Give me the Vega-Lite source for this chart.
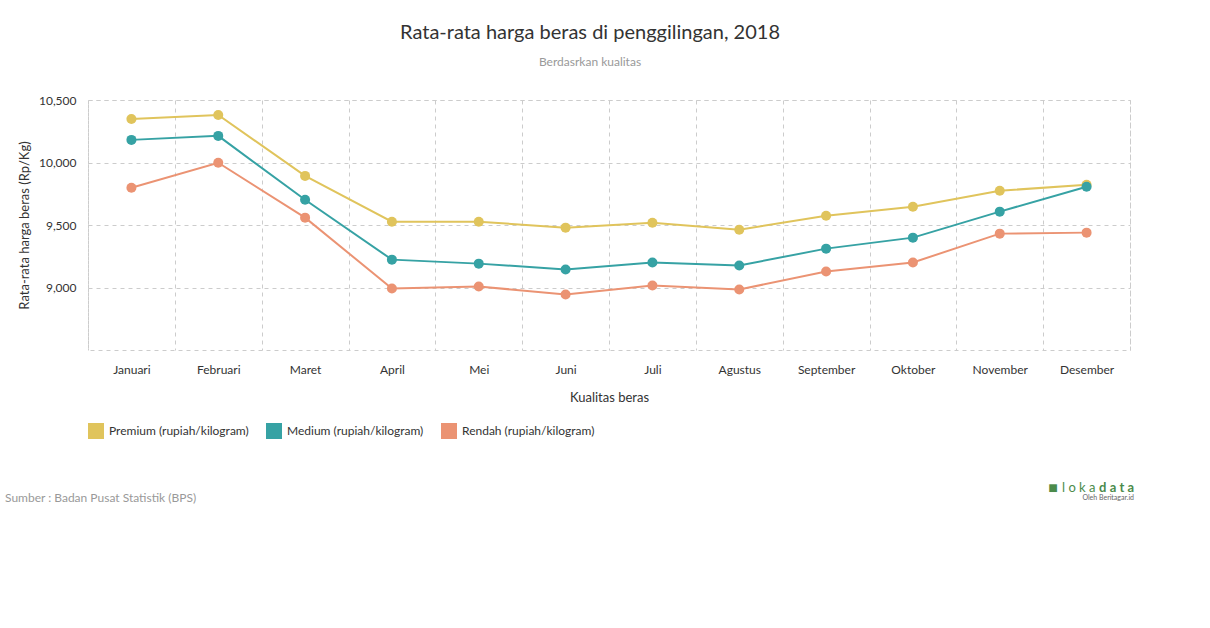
{
  "$schema": "https://vega.github.io/schema/vega-lite/v6.json",
  "width": 1042,
  "height": 250,
  "autosize": "none",
  "padding": {"left": 88, "top": 100, "right": 80, "bottom": 278},
  "background": "white",
  "config": {
    "font": "Lato",
    "view": {"stroke": "#cccccc", "strokeDash": [4, 4], "strokeWidth": 1}
  },
  "title": {
    "text": "Rata-rata harga beras di penggilingan, 2018",
    "subtitle": "Berdasrkan kualitas",
    "anchor": "middle",
    "frame": "group",
    "dx": -19,
    "offset": 26,
    "fontSize": 20,
    "fontWeight": "normal",
    "color": "#333333",
    "subtitleFontSize": 12,
    "subtitleColor": "#999999",
    "subtitlePadding": 14
  },
  "datasets": {
    "prices": [
      {"bulan": "Januari", "kualitas": "Premium (rupiah/kilogram)", "harga": 10348},
      {"bulan": "Februari", "kualitas": "Premium (rupiah/kilogram)", "harga": 10380},
      {"bulan": "Maret", "kualitas": "Premium (rupiah/kilogram)", "harga": 9893},
      {"bulan": "April", "kualitas": "Premium (rupiah/kilogram)", "harga": 9526},
      {"bulan": "Mei", "kualitas": "Premium (rupiah/kilogram)", "harga": 9526},
      {"bulan": "Juni", "kualitas": "Premium (rupiah/kilogram)", "harga": 9479},
      {"bulan": "Juli", "kualitas": "Premium (rupiah/kilogram)", "harga": 9518},
      {"bulan": "Agustus", "kualitas": "Premium (rupiah/kilogram)", "harga": 9462},
      {"bulan": "September", "kualitas": "Premium (rupiah/kilogram)", "harga": 9574},
      {"bulan": "Oktober", "kualitas": "Premium (rupiah/kilogram)", "harga": 9646},
      {"bulan": "November", "kualitas": "Premium (rupiah/kilogram)", "harga": 9774},
      {"bulan": "Desember", "kualitas": "Premium (rupiah/kilogram)", "harga": 9822},
      {"bulan": "Januari", "kualitas": "Medium (rupiah/kilogram)", "harga": 10181},
      {"bulan": "Februari", "kualitas": "Medium (rupiah/kilogram)", "harga": 10213},
      {"bulan": "Maret", "kualitas": "Medium (rupiah/kilogram)", "harga": 9702},
      {"bulan": "April", "kualitas": "Medium (rupiah/kilogram)", "harga": 9223},
      {"bulan": "Mei", "kualitas": "Medium (rupiah/kilogram)", "harga": 9191},
      {"bulan": "Juni", "kualitas": "Medium (rupiah/kilogram)", "harga": 9144},
      {"bulan": "Juli", "kualitas": "Medium (rupiah/kilogram)", "harga": 9200},
      {"bulan": "Agustus", "kualitas": "Medium (rupiah/kilogram)", "harga": 9176},
      {"bulan": "September", "kualitas": "Medium (rupiah/kilogram)", "harga": 9311},
      {"bulan": "Oktober", "kualitas": "Medium (rupiah/kilogram)", "harga": 9399},
      {"bulan": "November", "kualitas": "Medium (rupiah/kilogram)", "harga": 9607},
      {"bulan": "Desember", "kualitas": "Medium (rupiah/kilogram)", "harga": 9806},
      {"bulan": "Januari", "kualitas": "Rendah (rupiah/kilogram)", "harga": 9798},
      {"bulan": "Februari", "kualitas": "Rendah (rupiah/kilogram)", "harga": 9998},
      {"bulan": "Maret", "kualitas": "Rendah (rupiah/kilogram)", "harga": 9559},
      {"bulan": "April", "kualitas": "Rendah (rupiah/kilogram)", "harga": 8992},
      {"bulan": "Mei", "kualitas": "Rendah (rupiah/kilogram)", "harga": 9008},
      {"bulan": "Juni", "kualitas": "Rendah (rupiah/kilogram)", "harga": 8944},
      {"bulan": "Juli", "kualitas": "Rendah (rupiah/kilogram)", "harga": 9016},
      {"bulan": "Agustus", "kualitas": "Rendah (rupiah/kilogram)", "harga": 8984},
      {"bulan": "September", "kualitas": "Rendah (rupiah/kilogram)", "harga": 9128},
      {"bulan": "Oktober", "kualitas": "Rendah (rupiah/kilogram)", "harga": 9200},
      {"bulan": "November", "kualitas": "Rendah (rupiah/kilogram)", "harga": 9431},
      {"bulan": "Desember", "kualitas": "Rendah (rupiah/kilogram)", "harga": 9439}
    ]
  },
  "layer": [
    {
      "data": {"name": "prices"},
      "mark": {"type": "line", "strokeWidth": 2},
      "encoding": {
        "x": {
          "field": "bulan",
          "type": "nominal",
          "sort": ["Januari", "Februari", "Maret", "April", "Mei", "Juni", "Juli", "Agustus", "September", "Oktober", "November", "Desember"],
          "scale": {"type": "band", "paddingInner": 0, "paddingOuter": 0},
          "axis": {
            "title": "Kualitas beras",
            "titleFontSize": 13,
            "titleFontWeight": "normal",
            "titleColor": "#333333",
            "titlePadding": 16,
            "labelAngle": 0,
            "labelFontSize": 12,
            "labelColor": "#333333",
            "labelPadding": 14,
            "ticks": false,
            "domain": false,
            "grid": true,
            "tickBand": "extent",
            "gridColor": "#cccccc",
            "gridDash": [4, 4]
          }
        },
        "y": {
          "field": "harga",
          "type": "quantitative",
          "scale": {"domain": [8500, 10500], "nice": false, "zero": false},
          "axis": {
            "title": "Rata-rata harga beras (Rp/Kg)",
            "titleFontSize": 13,
            "titleFontWeight": "normal",
            "titleColor": "#333333",
            "titlePadding": 7,
            "values": [9000, 9500, 10000, 10500],
            "format": ",d",
            "labelFontSize": 12,
            "labelColor": "#333333",
            "labelPadding": 12,
            "ticks": false,
            "domain": false,
            "gridColor": "#cccccc",
            "gridDash": [4, 4]
          }
        },
        "color": {
          "field": "kualitas",
          "type": "nominal",
          "sort": ["Premium (rupiah/kilogram)", "Medium (rupiah/kilogram)", "Rendah (rupiah/kilogram)"],
          "scale": {
            "domain": ["Premium (rupiah/kilogram)", "Medium (rupiah/kilogram)", "Rendah (rupiah/kilogram)"],
            "range": ["#e0c45c", "#36a2a4", "#eb9373"]
          },
          "legend": {
            "title": null,
            "orient": "none",
            "legendX": 0,
            "legendY": 323,
            "direction": "horizontal",
            "symbolType": "square",
            "symbolSize": 256,
            "symbolStrokeWidth": 0,
            "labelFontSize": 12,
            "labelColor": "#333333",
            "labelOffset": 5,
            "columnPadding": 17,
            "labelLimit": 300
          }
        }
      }
    },
    {
      "data": {"name": "prices"},
      "mark": {"type": "point", "filled": true, "size": 100, "opacity": 1},
      "encoding": {
        "x": {"field": "bulan", "type": "nominal", "sort": ["Januari", "Februari", "Maret", "April", "Mei", "Juni", "Juli", "Agustus", "September", "Oktober", "November", "Desember"]},
        "y": {"field": "harga", "type": "quantitative"},
        "color": {"field": "kualitas", "type": "nominal"}
      }
    },
    {
      "data": {"values": [{"t": "Sumber : Badan Pusat Statistik (BPS)"}]},
      "mark": {"type": "text", "align": "left", "baseline": "middle", "fontSize": 12, "color": "#999999"},
      "encoding": {"text": {"field": "t"}, "x": {"value": -83}, "y": {"value": 398}}
    },
    {
      "data": {"values": [{"t": "l o k a"}]},
      "mark": {"type": "text", "align": "left", "baseline": "middle", "fontSize": 13, "color": "#4b8b4b"},
      "encoding": {"text": {"field": "t"}, "x": {"value": 974}, "y": {"value": 388}}
    },
    {
      "data": {"values": [{"t": "d a t a"}]},
      "mark": {"type": "text", "align": "right", "baseline": "middle", "fontSize": 13, "fontWeight": "bold", "color": "#4b8b4b"},
      "encoding": {"text": {"field": "t"}, "x": {"value": 1046}, "y": {"value": 388}}
    },
    {
      "data": {"values": [{"t": "■"}]},
      "mark": {"type": "text", "align": "center", "baseline": "middle", "fontSize": 16, "color": "#4b8b4b"},
      "encoding": {"text": {"field": "t"}, "x": {"value": 965}, "y": {"value": 388}}
    },
    {
      "data": {"values": [{"t": "Oleh Beritagar.id"}]},
      "mark": {"type": "text", "align": "right", "baseline": "middle", "fontSize": 7, "color": "#666666"},
      "encoding": {"text": {"field": "t"}, "x": {"value": 1046}, "y": {"value": 398}}
    }
  ]
}
